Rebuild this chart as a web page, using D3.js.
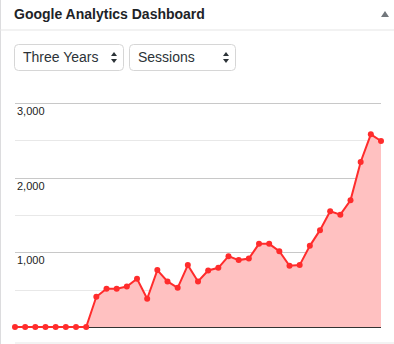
<!DOCTYPE html>
<html>
<head>
<meta charset="utf-8">
<script src="https://cdn.jsdelivr.net/npm/d3@7"></script>
<style>
  html, body { margin: 0; padding: 0; background: #fff; }
  svg { display: block; }
</style>
</head>
<body>
<svg id="vis" width="394" height="344"></svg>
<script>
// monthly sessions, three years (37 points)
var sessions = [0, 0, 0, 0, 0, 0, 0, 0,
    405, 512, 512, 543, 646, 378, 762, 610, 525, 829, 610, 757,
    793, 949, 896, 917, 1114, 1114, 1016, 820, 829, 1087, 1297, 1551,
    1505, 1698, 2210, 2580, 2491];
var yTicks = [0, 500, 1000, 1500, 2000, 2500, 3000];
var yLabels = [1000, 2000, 3000];
var periodOptions = ['Three Years'];
var metricOptions = ['Sessions'];

var svg = d3.select('#vis');
var font = '"Liberation Sans", Arial, sans-serif';

// panel frame
svg.append('rect').attr('x', 0).attr('y', 0).attr('width', 1).attr('height', 344).attr('fill', '#dcdcde');
svg.append('rect').attr('x', 0).attr('y', 29.5).attr('width', 394).attr('height', 1).attr('fill', '#e5e5e5');

svg.append('text')
    .attr('x', 14).attr('y', 19)
    .style('font-family', font)
    .style('font-weight', 'bold')
    .style('font-size', '14px')
    .attr('fill', '#1d2327')
    .text('Google Analytics Dashboard');

// collapse arrow
svg.append('path')
    .attr('d', 'M381,17 L385,11 L389,17 Z')
    .attr('fill', '#72777c');

// fake select boxes
function drawSelect(x, w, label) {
    var g = svg.append('g').attr('transform', 'translate(' + x + ',44)');
    g.append('rect')
        .attr('x', 0.5).attr('y', 0.5)
        .attr('width', w).attr('height', 26)
        .attr('rx', 4)
        .attr('fill', '#fff')
        .attr('stroke', '#d6d6d6');
    g.append('text')
        .attr('x', 9).attr('y', 18)
        .style('font-family', font)
        .style('font-size', '14px')
        .attr('fill', '#2c3338')
        .text(label);
    g.append('path')
        .attr('d', 'M' + (w - 12) + ',12 L' + (w - 9) + ',8 L' + (w - 6) + ',12 Z M' + (w - 12) + ',15 L' + (w - 9) + ',19 L' + (w - 6) + ',15 Z')
        .attr('fill', '#2c3338');
}
drawSelect(14, 109, periodOptions[0]);
drawSelect(129, 106, metricOptions[0]);

// chart
var margin = { top: 103, left: 15, right: 13, bottom: 17 };
var width = 394 - margin.left - margin.right;
var height = 344 - margin.top - margin.bottom;

var chart = svg.append('g')
    .attr('transform', 'translate(' + margin.left + ',' + margin.top + ')');

var xScale = d3.scaleLinear()
    .domain([0, sessions.length - 1])
    .range([0, width]);

var yScale = d3.scaleLinear()
    .domain([0, 3000])
    .range([height, 0]);

chart.selectAll('.grid')
    .data(yTicks.filter(function (d) { return d > 0; }))
    .enter().append('line')
    .attr('class', 'grid')
    .attr('x1', 0).attr('x2', width)
    .attr('y1', function (d) { return Math.round(yScale(d)) + 0.5; })
    .attr('y2', function (d) { return Math.round(yScale(d)) + 0.5; })
    .attr('stroke', function (d) { return d % 1000 === 0 ? '#c8c8c8' : '#e8e8e8'; });

chart.selectAll('.ylabel')
    .data(yLabels)
    .enter().append('text')
    .attr('class', 'ylabel')
    .attr('x', 2)
    .attr('y', function (d) { return yScale(d) + 12; })
    .style('font-family', font)
    .style('font-size', '11px')
    .attr('fill', '#222')
    .text(function (d) { return d3.format(',')(d); });

var area = d3.area()
    .x(function (d, i) { return xScale(i); })
    .y0(height)
    .y1(function (d) { return yScale(d); });

var line = d3.line()
    .x(function (d, i) { return xScale(i); })
    .y(function (d) { return yScale(d); });

chart.append('path')
    .datum(sessions)
    .attr('d', area)
    .attr('fill', '#ffc1c1');

// baseline
chart.append('line')
    .attr('x1', 0).attr('x2', width)
    .attr('y1', height + 0.5).attr('y2', height + 0.5)
    .attr('stroke', '#333');

chart.append('path')
    .datum(sessions)
    .attr('d', line)
    .attr('fill', 'none')
    .attr('stroke', '#ff2c2c')
    .attr('stroke-width', 2);

chart.selectAll('.dot')
    .data(sessions)
    .enter().append('circle')
    .attr('class', 'dot')
    .attr('cx', function (d, i) { return xScale(i); })
    .attr('cy', function (d) { return yScale(d); })
    .attr('r', 3)
    .attr('fill', '#ff2c2c');

// faint footer edge
svg.append('rect').attr('x', 15).attr('y', 342).attr('width', 379).attr('height', 2).attr('fill', '#f3f3f3');
</script>
</body>
</html>
